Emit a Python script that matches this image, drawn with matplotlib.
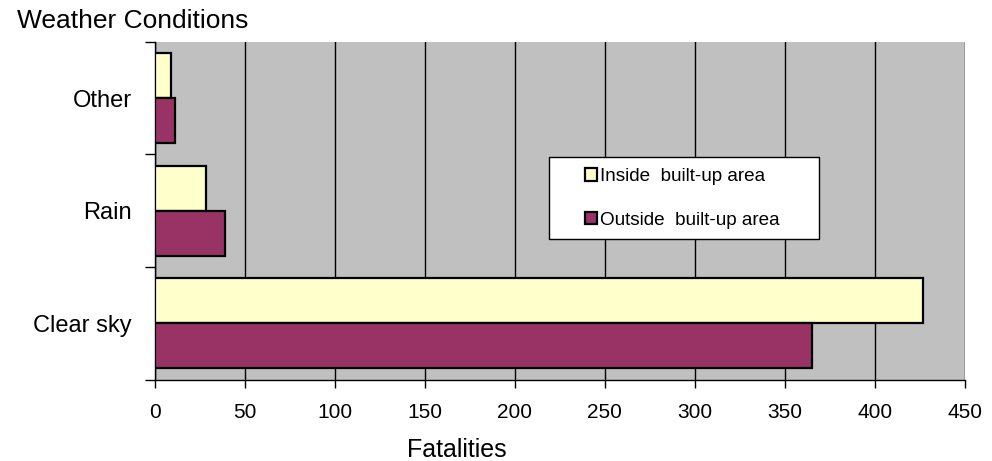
import matplotlib
matplotlib.use("Agg")
import matplotlib.pyplot as plt
import matplotlib.transforms as mtrans
from matplotlib.patches import Rectangle
import numpy as np

plt.rcParams['font.family'] = ['Liberation Sans', 'DejaVu Sans']

categories = ["Clear sky", "Rain", "Other"]
inside = [427, 28.5, 9]
outside = [365, 39, 11]
series_names = ["Inside  built-up area", "Outside  built-up area"]
xticks = [0, 50, 100, 150, 200, 250, 300, 350, 400, 450]

fig = plt.figure(figsize=(9.92, 4.61), dpi=100)
ax = fig.add_axes([154.7/992, 1-379.5/461, 810/992, 337.5/461])
ax.set_facecolor("#C0C0C0")

y = np.arange(len(categories))
h = 0.4
ax.barh(y + h/2, inside, height=h, color="#FFFFCC", edgecolor="black", linewidth=1.6, label=series_names[0], zorder=3)
ax.barh(y - h/2, outside, height=h, color="#993366", edgecolor="black", linewidth=1.6, label=series_names[1], zorder=3)

ax.set_xlim(0, 450)
ax.set_ylim(-0.5, 2.5)
ax.set_xticks(xticks)
ax.set_xticklabels([str(t) for t in xticks], fontsize=15)
offset = mtrans.ScaledTranslation(-6/100, 0, fig.dpi_scale_trans)
for lab in ax.get_xticklabels():
    lab.set_transform(lab.get_transform() + offset)
ax.tick_params(axis='x', length=6, width=1, pad=11, direction='out')
ax.xaxis.grid(True, color="black", linewidth=1, zorder=1)
ax.set_axisbelow(True)

ax.set_yticks([-0.5, 0.5, 1.5, 2.5])
ax.set_yticklabels([])
ax.tick_params(axis='y', which='major', length=7, width=1, direction='out')
ax.set_yticks(y, minor=True)
ax.set_yticklabels(categories, minor=True, fontsize=17)
ax.tick_params(axis='y', which='minor', length=0, pad=16.5)

for s in ['top', 'right']:
    ax.spines[s].set_visible(False)
ax.spines['left'].set_linewidth(1)
ax.spines['bottom'].set_linewidth(1)

# legend box
x0 = (549-154.7)/810
y0 = (379.5-239)/337.5
w = (819-549)/810
hh = (239-157)/337.5
ax.add_patch(Rectangle((x0, y0), w, hh, transform=ax.transAxes, facecolor="white",
                       edgecolor="black", linewidth=1, zorder=5))
leg = ax.legend(loc='center left', bbox_to_anchor=((585-154.7)/810, (379.5-198.5)/337.5),
                frameon=False, fontsize=13.6, handlelength=0.63, handleheight=0.63,
                handletextpad=0.15, labelspacing=1.4, borderpad=0, borderaxespad=0)
leg.set_zorder(6)

fig.text(17/992, 1-28/461, "Weather Conditions", fontsize=19, ha='left', va='baseline')
fig.text(457/992, 1-457/461, "Fatalities", fontsize=18, ha='center', va='baseline')

fig.savefig("out.png", dpi=100)
